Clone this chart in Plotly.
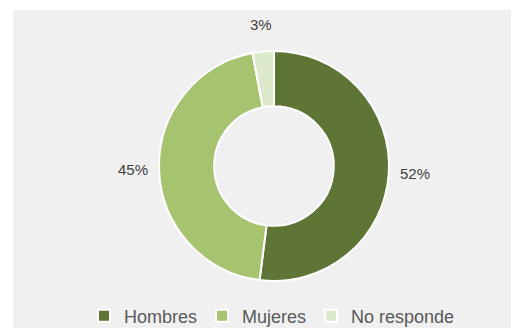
import math
import plotly.graph_objects as go

categories = ["Hombres", "Mujeres", "No responde"]
values = [52, 45, 3]
colors = ["#5f7535", "#a6c36f", "#dde9cb"]

W, H = 511, 328
cx, cy, r = 274, 166, 115
label_r = 141  # distance of the percentage labels from the centre, px

fig = go.Figure(go.Pie(
    labels=categories,
    values=values,
    hole=0.52,
    sort=False,
    direction="clockwise",
    rotation=0,
    marker=dict(colors=colors, line=dict(color="white", width=2)),
    textinfo="none",
    domain=dict(x=[(cx - r) / W, (cx + r) / W], y=[(H - cy - r) / H, (H - cy + r) / H]),
    showlegend=True,
    hoverinfo="label+percent",
))

# Percentage labels placed outside the ring at each slice's mid-angle
total = sum(values)
annotations = []
cum = 0
for v in values:
    mid = (cum + v / 2) / total * 2 * math.pi
    cum += v
    px = cx + label_r * math.sin(mid)
    py = cy - 1 - label_r * math.cos(mid)
    annotations.append(dict(
        x=px / W, y=1 - py / H, xref="paper", yref="paper",
        text=f"{round(v / total * 100)}%", showarrow=False,
        xanchor="center", yanchor="middle",
        font=dict(family="Liberation Sans, Arial", size=15, color="#404040"),
    ))

fig.update_layout(
    width=W, height=H,
    margin=dict(l=0, r=0, t=0, b=0, autoexpand=False),
    paper_bgcolor="white",
    plot_bgcolor="white",
    shapes=[dict(type="rect", xref="paper", yref="paper", x0=13 / W, x1=1, y0=0, y1=1 - 10 / H,
                 fillcolor="#f0f0f0", line=dict(width=0), layer="below")],
    annotations=annotations,
    legend=dict(orientation="h", x=272 / W, xanchor="center", y=12 / H, yanchor="middle",
                font=dict(family="Liberation Sans, Arial", size=18, color="#595959"),
                bgcolor="rgba(0,0,0,0)", itemwidth=30, tracegroupgap=0),
)

fig.write_html("out.html")
